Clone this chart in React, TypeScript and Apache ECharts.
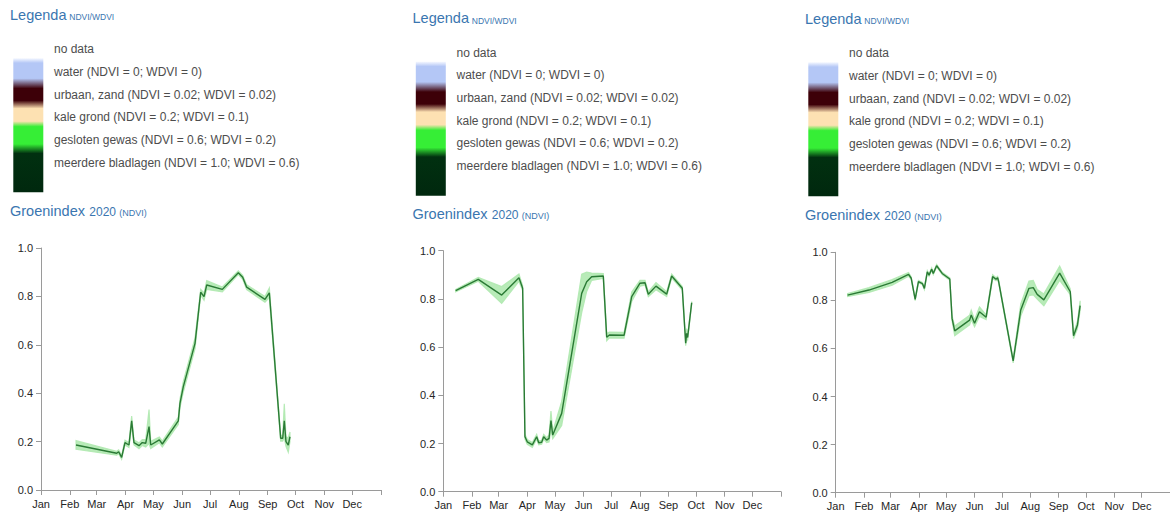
import React, { useEffect, useRef } from "react";
import * as echarts from "echarts";

const months = ["Jan", "Feb", "Mar", "Apr", "May", "Jun", "Jul", "Aug", "Sep", "Oct", "Nov", "Dec"];
const monthStarts = [0, 31, 60, 91, 121, 152, 182, 213, 244, 274, 305, 335];
const yearEnd = 366;

const legendItems = [
  "no data",
  "water (NDVI = 0; WDVI = 0)",
  "urbaan, zand (NDVI = 0.02; WDVI = 0.02)",
  "kale grond (NDVI = 0.2; WDVI = 0.1)",
  "gesloten gewas (NDVI = 0.6; WDVI = 0.2)",
  "meerdere bladlagen (NDVI = 1.0; WDVI = 0.6)",
];

// Panel 1 (day of year 2020, NDVI, band half-width)
const days1 = [37.7, 81.5, 83.6, 86.8, 90.4, 94.7, 97.6, 100.1, 105.5, 109, 112.7, 116.3, 118.1, 127.4, 130.6, 147.8, 149.6, 153.2, 165.8, 171.9, 175.5, 178.4, 195.2, 212.4, 217.1, 221.4, 241.1, 245.8, 258, 260.2, 261.9, 263.7, 266.2, 268];
const ndvi1 = [0.186, 0.152, 0.158, 0.135, 0.196, 0.186, 0.286, 0.196, 0.183, 0.196, 0.193, 0.262, 0.186, 0.207, 0.19, 0.286, 0.358, 0.427, 0.606, 0.817, 0.799, 0.847, 0.829, 0.898, 0.879, 0.838, 0.788, 0.815, 0.214, 0.214, 0.286, 0.2, 0.186, 0.22];
const spread1 = [0.018, 0.008, 0.008, 0.008, 0.01, 0.01, 0.02, 0.01, 0.012, 0.012, 0.015, 0.07, 0.015, 0.012, 0.012, 0.015, 0.018, 0.022, 0.022, 0.012, 0.015, 0.018, 0.01, 0.008, 0.008, 0.01, 0.012, 0.02, 0.012, 0.012, 0.07, 0.02, 0.03, 0.02];

// Panel 2
const days2 = [13.4, 37.9, 63.3, 82, 86, 88.5, 91, 96.5, 101.2, 103.4, 106.6, 108.8, 112, 114.6, 116.7, 118.6, 128.3, 150, 155.4, 160.8, 173.4, 177.1, 180, 195.9, 204.2, 213.2, 218.6, 222.2, 230.5, 242.1, 247.5, 259, 262.7, 263.7, 264.8, 269.2];
const ndvi2 = [0.834, 0.881, 0.816, 0.888, 0.844, 0.228, 0.207, 0.194, 0.228, 0.203, 0.205, 0.228, 0.214, 0.221, 0.295, 0.235, 0.325, 0.823, 0.871, 0.892, 0.895, 0.641, 0.65, 0.649, 0.809, 0.865, 0.867, 0.819, 0.853, 0.82, 0.895, 0.844, 0.616, 0.657, 0.64, 0.784];
const spread2 = [0.005, 0.008, 0.035, 0.015, 0.01, 0.01, 0.01, 0.01, 0.01, 0.008, 0.008, 0.01, 0.01, 0.015, 0.04, 0.015, 0.05, 0.08, 0.04, 0.015, 0.01, 0.015, 0.012, 0.012, 0.02, 0.012, 0.01, 0.01, 0.015, 0.01, 0.008, 0.008, 0.01, 0.02, 0.01, 0.005];

// Panel 3
const days3 = [13, 36.4, 61.8, 79.8, 82.7, 87, 90.6, 94.9, 97.1, 100.3, 102.2, 105.1, 106.8, 110.5, 116.6, 124.9, 127.4, 130.3, 146.6, 148.4, 152, 157.4, 164.7, 171.8, 175.5, 177.3, 178.4, 194.3, 202.6, 211.6, 216.3, 220.6, 227.9, 245.2, 256.8, 260.4, 264.7, 267.6];
const ndvi3 = [0.822, 0.843, 0.875, 0.908, 0.892, 0.804, 0.878, 0.87, 0.85, 0.919, 0.905, 0.93, 0.912, 0.944, 0.912, 0.889, 0.725, 0.673, 0.718, 0.739, 0.705, 0.753, 0.73, 0.899, 0.888, 0.894, 0.878, 0.548, 0.76, 0.85, 0.853, 0.825, 0.802, 0.913, 0.836, 0.653, 0.698, 0.778];
const spread3 = [0.006, 0.01, 0.012, 0.008, 0.005, 0.005, 0.005, 0.005, 0.005, 0.005, 0.005, 0.005, 0.005, 0.005, 0.005, 0.005, 0.01, 0.02, 0.02, 0.02, 0.015, 0.02, 0.01, 0.008, 0.006, 0.006, 0.006, 0.008, 0.025, 0.03, 0.03, 0.02, 0.025, 0.03, 0.012, 0.012, 0.015, 0.02];

const FONT = '"Liberation Sans", Arial, Helvetica, sans-serif';
const BLUE = "#3a76b0";
const AXIS = "#9a9a9a";
const LINE = "#2a7a35";
const BAND = "#b0e9b0";

const panels = [
  { days: days1, ndvi: ndvi1, spread: spread1, dx: 0, dy: 0, grid: { left: 41, top: 248, width: 340, height: 242 } },
  { days: days2, ndvi: ndvi2, spread: spread2, dx: 402.5, dy: 3.5, grid: { left: 443.3, top: 250.7, width: 337.7, height: 241 } },
  { days: days3, ndvi: ndvi3, spread: spread3, dx: 795, dy: 4, grid: { left: 835.7, top: 252.3, width: 338, height: 240.4 } },
];

function legendGraphics(dx: number, dy: number): any[] {
  const gradient = new echarts.graphic.LinearGradient(0, 0, 0, 1, [
    { offset: 0, color: "#f4f7ff" },
    { offset: 0.035, color: "#b4c7f6" },
    { offset: 0.15, color: "#b4c7f6" },
    { offset: 0.225, color: "#3d0008" },
    { offset: 0.315, color: "#3d0008" },
    { offset: 0.375, color: "#fde1b2" },
    { offset: 0.47, color: "#fde1b2" },
    { offset: 0.51, color: "#36ee36" },
    { offset: 0.64, color: "#36ee36" },
    { offset: 0.71, color: "#013010" },
    { offset: 1, color: "#00280e" },
  ]);
  const els: any[] = [
    { type: "text", x: 10 + dx, y: 14.9 + dy, style: { text: "Legenda", fill: BLUE, fontSize: 14.5, fontFamily: FONT, verticalAlign: "middle", align: "left" } },
    { type: "text", x: 69.3 + dx, y: 17 + dy, style: { text: "NDVI/WDVI", fill: BLUE, fontSize: 8.5, fontFamily: FONT, verticalAlign: "middle", align: "left" } },
    { type: "rect", shape: { x: 13.3 + dx, y: 58.3 + dy, width: 30, height: 134 }, style: { fill: gradient } },
    { type: "text", x: 10 + dx, y: 210.9 + dy, style: { text: "Groenindex", fill: BLUE, fontSize: 14.5, fontFamily: FONT, verticalAlign: "middle", align: "left" } },
    { type: "text", x: 89.3 + dx, y: 211.8 + dy, style: { text: "2020", fill: BLUE, fontSize: 12, fontFamily: FONT, verticalAlign: "middle", align: "left" } },
    { type: "text", x: 119.3 + dx, y: 212.9 + dy, style: { text: "(NDVI)", fill: BLUE, fontSize: 9, fontFamily: FONT, verticalAlign: "middle", align: "left" } },
  ];
  legendItems.forEach((t, i) => {
    els.push({
      type: "text",
      x: 54 + dx,
      y: 49.3 + i * 22.65 + dy,
      style: { text: t, fill: "#4d4d4d", fontSize: 12, fontFamily: FONT, verticalAlign: "middle", align: "left" },
    });
  });
  return els;
}

export default function App() {
  const ref = useRef<HTMLDivElement>(null);
  useEffect(() => {
    if (!ref.current) return;
    const chart = echarts.init(ref.current, null, { renderer: "svg" });
    const grids: any[] = [];
    const xAxes: any[] = [];
    const yAxes: any[] = [];
    const series: any[] = [];
    const graphics: any[] = [];
    panels.forEach((p, i) => {
      grids.push({ ...p.grid, containLabel: false });
      xAxes.push({
        type: "value",
        gridIndex: i,
        min: 0,
        max: yearEnd,
        axisLine: { show: true, onZero: false, lineStyle: { color: AXIS, width: 1 } },
        axisTick: { show: true, length: 5, customValues: [...monthStarts, yearEnd], lineStyle: { color: AXIS } },
        axisLabel: {
          customValues: monthStarts,
          formatter: (v: number) => months[monthStarts.indexOf(Math.round(v))] ?? "",
          color: "#262626",
          fontSize: 11,
          fontFamily: FONT,
          margin: 8,
        },
        splitLine: { show: false },
      });
      yAxes.push({
        type: "value",
        gridIndex: i,
        min: 0,
        max: 1,
        interval: 0.2,
        axisLine: { show: true, onZero: false, lineStyle: { color: AXIS, width: 1 } },
        axisTick: { show: true, length: 5, lineStyle: { color: AXIS } },
        axisLabel: {
          formatter: (v: number) => v.toFixed(1),
          color: "#262626",
          fontSize: 11,
          fontFamily: FONT,
          margin: 8,
        },
        splitLine: { show: false },
      });
      const bandData = p.days.map((d, k) => [d, p.ndvi[k] - p.spread[k], p.ndvi[k] + p.spread[k]]);
      const line = p.days.map((d, k) => [d, p.ndvi[k]]);
      series.push({
        type: "custom",
        xAxisIndex: i,
        yAxisIndex: i,
        data: bandData,
        encode: { x: 0, y: [1, 2] },
        silent: true,
        z: 1,
        renderItem: (params: any, api: any) => {
          if (params.dataIndex !== 0) return null;
          const top = bandData.map((r) => api.coord([r[0], r[2]]));
          const bottom = bandData.map((r) => api.coord([r[0], r[1]])).reverse();
          return {
            type: "polygon",
            shape: { points: [...top, ...bottom] },
            style: { fill: BAND, stroke: BAND, lineWidth: 1.2, opacity: 0.9 },
          };
        },
      });
      series.push({
        type: "line",
        xAxisIndex: i,
        yAxisIndex: i,
        data: line,
        symbol: "none",
        lineStyle: { color: LINE, width: 1.4 },
        silent: true,
        z: 3,
      });
      graphics.push(...legendGraphics(p.dx, p.dy));
    });
    chart.setOption({
      animation: false,
      grid: grids,
      xAxis: xAxes,
      yAxis: yAxes,
      series,
      graphic: graphics,
    });
    return () => chart.dispose();
  }, []);
  return (
    <div
      ref={ref}
      style={{ position: "absolute", left: 0, top: 0, width: 1170, height: 512, background: "#fff" }}
    />
  );
}
